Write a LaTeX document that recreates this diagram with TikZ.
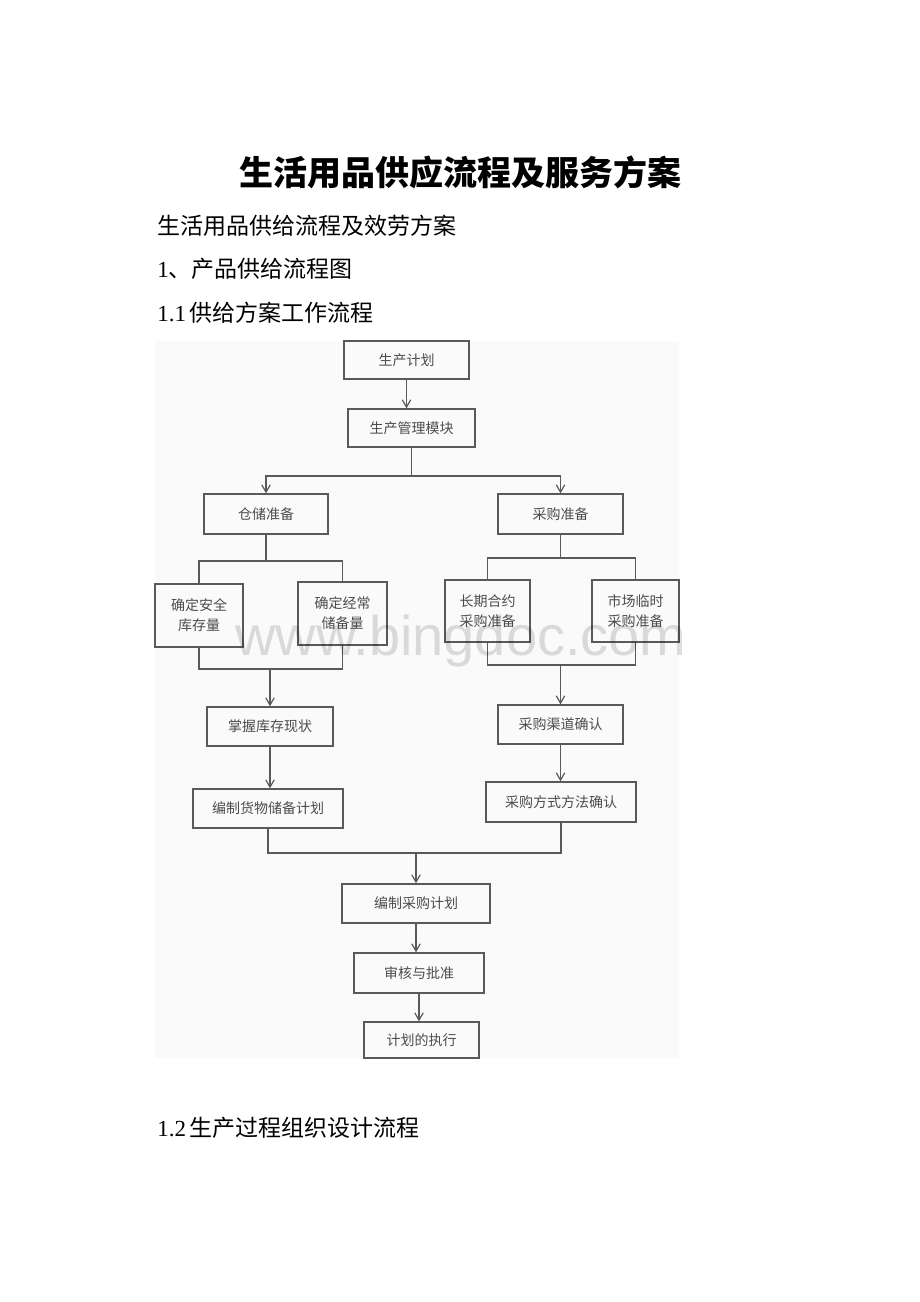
\documentclass[tikz,border=0pt]{standalone}
\usepackage{fontspec}
\setmainfont{Liberation Serif}
\newfontfamily\cjk{Noto Sans CJK SC}
\newfontfamily\markfont{Liberation Sans}
\usetikzlibrary{arrows}
\tikzstyle{box}=[rectangle,draw=black!65,line width=0.7pt,inner sep=0pt,align=center,text=black!70,font=\cjk\fontsize{7}{10}\selectfont]
\tikzstyle{link}=[draw=black!65,line width=0.6pt]
\tikzstyle{flow}=[draw=black!65,line width=0.6pt,->,>=angle 60]
\tikzstyle{heading}=[anchor=west,inner sep=0pt,font=\fontsize{11.5}{14}\selectfont]

\begin{document}
\begin{tikzpicture}[x=0.5pt,y=-0.5pt]
\useasboundingbox (0,0) rectangle (920,1302);

% page text
\node[inner sep=0pt,font=\cjk\bfseries\fontsize{17}{20}\selectfont] (title) at (460,172) {生活用品供应流程及服务方案};
\node[heading] (sub) at (157,226) {{\cjk 生活用品供给流程及效劳方案}};
\node[heading] (sec1) at (157,269) {1{\cjk 、产品供给流程图}};
\node[heading] (sec11) at (157,313) {1.1\,{\cjk 供给方案工作流程}};
\node[heading] (sec12) at (157,1128) {1.2\,{\cjk 生产过程组织设计流程}};

% picture area
\fill[black!2] (155,341) rectangle (679,1058);

%boxes
\foreach \pos/\name/\w/\h/\txt in {{(406.5,360)/plan/62.5/19/{生产计划}},
    {(411.5,428)/module/63.5/19/{生产管理模块}},
    {(266,514)/store/62/20/{仓储准备}}, {(560.5,514)/buy/62.5/20/{采购准备}},
    {(199,615.5)/safe/44/31.5/{确定安全\\库存量}}, {(342.5,613.5)/regular/44.5/31.5/{确定经常\\储备量}},
    {(487.5,611)/longterm/42.5/31/{长期合约\\采购准备}}, {(635.5,611)/market/43.5/31/{市场临时\\采购准备}},
    {(270,726.5)/stock/63/19.5/{掌握库存现状}}, {(268,808.5)/storeplan/75/19.5/{编制货物储备计划}},
    {(560.5,724.5)/channel/62.5/19.5/{采购渠道确认}}, {(561,802)/method/75/20/{采购方式方法确认}},
    {(416,903.5)/buyplan/74/19.5/{编制采购计划}},
    {(419,973)/approve/65/20/{审核与批准}},
    {(421.5,1040)/exec/57.5/18/{计划的执行}}}
    \node[box,minimum width=\w pt,minimum height=\h pt] (\name) at \pos {\txt};

%junctions
\coordinate (top) at (411.5,476);
\coordinate (splitL) at (266,561);
\coordinate (splitR) at (560.5,558);
\coordinate (joinL) at (270,669);
\coordinate (joinR) at (560.5,665);
\coordinate (joinB) at (416,853);

% top part
\draw[flow] (plan) -- (plan |- module.north);
\draw[link] (module) -- (top);
\draw[flow] (top) -| (store.north);
\draw[flow] (top) -| (buy.north);

% left branch
\draw[link] (store) -- (splitL);
\draw[link] (safe.north) |- (splitL) -| (regular.north);
\draw[link] (safe.south) |- (joinL) -| (regular.south);
\draw[flow] (joinL) -- (stock);
\draw[flow] (stock) -- (stock |- storeplan.north);

% right branch
\draw[link] (buy) -- (splitR);
\draw[link] (longterm.north) |- (splitR) -| (market.north);
\draw[link] (longterm.south) |- (joinR) -| (market.south);
\draw[flow] (joinR) -- (channel);
\draw[flow] (channel) -- (channel |- method.north);

% bottom part
\draw[link] (storeplan.south) |- (joinB) -| (method.south);
\draw[flow] (joinB) -- (buyplan);
\draw[flow] (buyplan) -- (buyplan |- approve.north);
\draw[flow] (approve) -- (approve |- exec.north);

% watermark
\node[inner sep=0pt,anchor=base,text=black,text opacity=0.13,font=\markfont\fontsize{28}{28}\selectfont] (mark) at (461,655) {www.bingdoc.com};

\end{tikzpicture}
\end{document}
